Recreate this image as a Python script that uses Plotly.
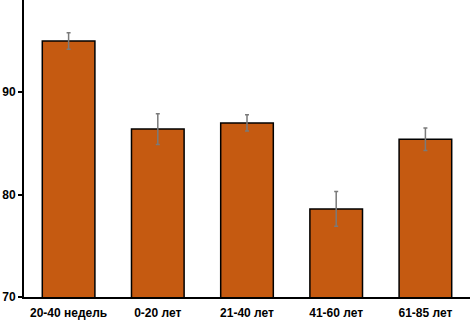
import plotly.graph_objects as go

categories = ["20-40 недель", "0-20 лет", "21-40 лет", "41-60 лет", "61-85 лет"]
values = [95.0, 86.4, 87.0, 78.6, 85.4]
errors = [0.8, 1.5, 0.8, 1.7, 1.1]
yticks = [70, 80, 90]

fig = go.Figure(go.Bar(
    x=categories, y=values,
    marker=dict(color="#C55A11", line=dict(color="#000000", width=1.5)),
    width=0.59,
    error_y=dict(type="data", array=errors, color="#7a7a7a", thickness=1.5, width=2),
))
fig.update_layout(
    width=470, height=324,
    margin=dict(l=24, r=0, t=0, b=27),
    plot_bgcolor="white", paper_bgcolor="white",
    showlegend=False,
    font=dict(family="Arial, Liberation Sans", size=12, color="black"),
)
fig.update_xaxes(showline=True, linecolor="black", linewidth=2, ticks="", automargin=False,
                 ticklabelstandoff=4,
                 tickfont=dict(family="Liberation Sans", size=12, weight="bold"))
fig.update_yaxes(range=[70, 99], tickvals=yticks, showline=True, linecolor="black", linewidth=2,
                 ticks="outside", ticklen=4, tickwidth=2, tickcolor="black", showgrid=False, zeroline=False,
                 automargin=False,
                 tickfont=dict(family="Liberation Sans", size=12, weight="bold"))
fig.write_html("out.html", config={"displayModeBar": False},
               post_script="document.body.style.margin='0';document.body.style.overflow='hidden';")
